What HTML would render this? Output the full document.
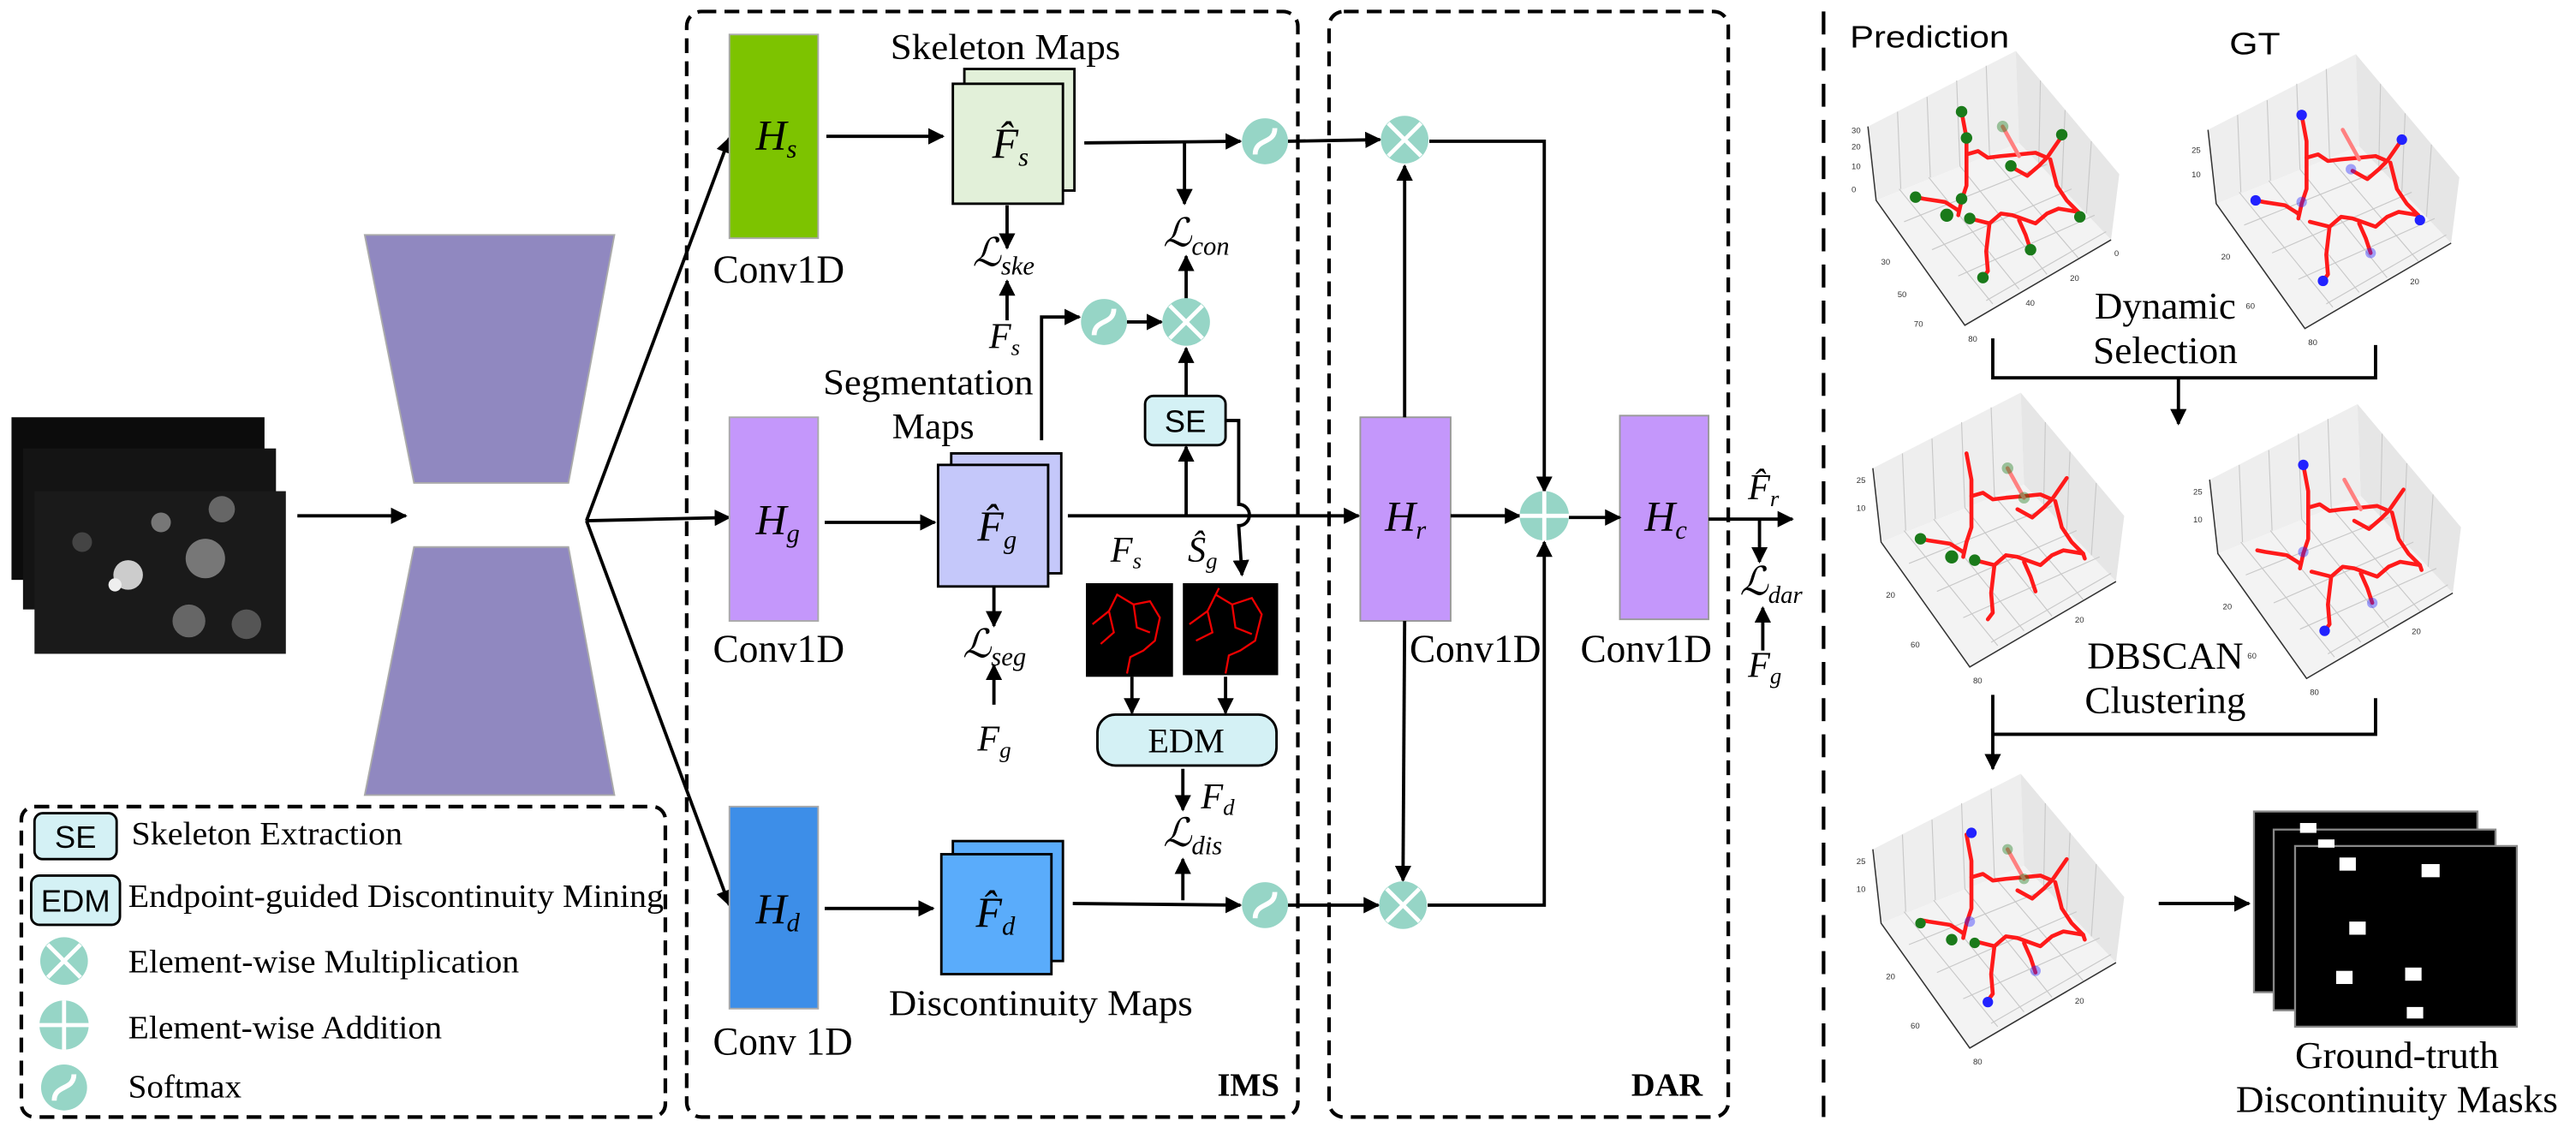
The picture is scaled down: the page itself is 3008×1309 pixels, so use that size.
<!DOCTYPE html>
<html><head><meta charset="utf-8">
<style>
html,body{margin:0;padding:0;background:#fff;}
svg{display:block;}
.t{font-family:"Liberation Serif",serif;fill:#000;}
.m{font-family:"Liberation Serif","DejaVu Serif",serif;font-style:italic;fill:#000;}
.s{font-family:"Liberation Sans",sans-serif;fill:#000;}
.tk{font-family:"Liberation Sans",sans-serif;font-size:5px;fill:#333;}
</style></head><body>
<svg width="3008" height="1309" viewBox="0 0 1568 682.4" preserveAspectRatio="none" xmlns="http://www.w3.org/2000/svg">
<defs>
<marker id="ar" viewBox="0 0 10 10" refX="9" refY="5" markerWidth="5" markerHeight="5" orient="auto" markerUnits="strokeWidth"><path d="M0,0 L10,5 L0,10 z" fill="#000"/></marker>
<g id="sm"><circle r="14" fill="#96d5c6"/><path d="M-6,8 C-6,-2 6,2 6,-8" stroke="#fff" stroke-width="3" fill="none"/></g>
<g id="mul"><circle r="14.5" fill="#96d5c6"/><path d="M-10,-10 L10,10 M10,-10 L-10,10" stroke="#fff" stroke-width="2.5"/></g>
<g id="add"><circle r="15" fill="#96d5c6"/><path d="M-15,0 L15,0 M0,-15 L0,15" stroke="#fff" stroke-width="2.5"/></g>
<g id="pb">
<polygon points="12,46 102,0 104,56 17,91" fill="#eeeeee"/>
<polygon points="102,0 165,75 160,115 104,56" fill="#e6e6e6"/>
<polygon points="17,91 104,56 160,115 71,167" fill="#f3f3f3"/>
<g stroke="#c8c8c8" stroke-width="0.6" fill="none">
<path d="M30,37 L32,84 M48,28 L50,77 M66,18 L68,70 M84,9 L86,63"/>
<path d="M117,18 L116,68 M132,36 L130,84 M148,55 L145,99"/>
<path d="M34,104 L121,69 M51,121 L136,84 M67,137 L150,100 M84,152 L157,110"/>
<path d="M31,84 L88,154 M49,77 L104,145 M68,70 L121,136 M86,63 L140,126"/>
</g>
<path d="M12,46 L17,91 L71,167 L160,115" stroke="#333" stroke-width="0.8" fill="none"/>
</g>
<g id="sk" fill="none" stroke="#ff1a1a" stroke-width="2.4" stroke-linecap="round" stroke-linejoin="round">
<path d="M69,37 L72,53 L72,63 L72,82 L69,91 L67,100"/>
<path d="M72,63 L79,61 L85,65 L93,64 L104,63 L114,62 L121,65 L130,52"/>
<path d="M121,65 L116,70 L109,76 L100,71"/>
<path d="M123,66 L127,82 L133,91 L140,98 L141,101"/>
<path d="M140,98 L128,96 L121,99 L114,105 L100,100 L93,99 L86,105 L74,102"/>
<path d="M86,105 L84,122 L85,134 L82,138"/>
<path d="M104,103 L108,112 L111,121"/>
<path d="M67,97 L59,92 L46,90 L41,89"/>
<path d="M94,46 L104,64" stroke="#ff8080"/>
</g>
</defs>

<!-- input images -->
<rect x="7" y="254" width="154" height="99" fill="#0c0c0c"/>
<rect x="14" y="273" width="154" height="98" fill="#141414"/>
<rect x="21" y="299" width="153" height="99" fill="#1a1a1a"/>
<circle cx="98" cy="318" r="6" fill="#777"/><circle cx="78" cy="350" r="9" fill="#ccc"/><circle cx="125" cy="340" r="12" fill="#777"/>
<circle cx="135" cy="310" r="8" fill="#666"/><circle cx="115" cy="378" r="10" fill="#666"/><circle cx="70" cy="356" r="4" fill="#eee"/>
<circle cx="150" cy="380" r="9" fill="#555"/><circle cx="50" cy="330" r="6" fill="#444"/>
<line x1="181" y1="314" x2="247" y2="314" stroke="#000" stroke-width="2" marker-end="url(#ar)"/>

<!-- encoder/decoder -->
<polygon points="222,143 374,143 346,294 252,294" fill="#9088c0" stroke="#aaa" stroke-width="1"/>
<polygon points="252,333 346,333 374,484 222,484" fill="#9088c0" stroke="#aaa" stroke-width="1"/>

<!-- branches -->
<g stroke="#000" stroke-width="2" fill="none" marker-end="url(#ar)">
<line x1="357" y1="317" x2="444" y2="84"/>
<line x1="357" y1="317" x2="444" y2="315"/>
<line x1="357" y1="317" x2="444" y2="551"/>
</g>

<rect x="418" y="7" width="372" height="673" rx="9" fill="none" stroke="#000" stroke-width="2.2" stroke-dasharray="9,5"/>
<rect x="809" y="7" width="243" height="673" rx="9" fill="none" stroke="#000" stroke-width="2.2" stroke-dasharray="9,5"/>
<line x1="1110" y1="7" x2="1110" y2="680" stroke="#000" stroke-width="2.2" stroke-dasharray="14,8"/>
<rect x="13" y="491" width="392" height="189" rx="8" fill="none" stroke="#000" stroke-width="2.2" stroke-dasharray="9,5"/>

<rect x="444" y="21" width="54" height="124" fill="#7dc300" stroke="#aaa"/>
<rect x="444" y="254" width="54" height="124" fill="#c497fb" stroke="#aaa"/>
<rect x="444" y="491" width="54" height="123" fill="#3d8ee8" stroke="#aaa"/>
<text class="m" x="460" y="91" font-size="26">H<tspan font-size="16" dy="5">s</tspan></text>
<text class="m" x="460" y="325" font-size="26">H<tspan font-size="16" dy="5">g</tspan></text>
<text class="m" x="460" y="562" font-size="26">H<tspan font-size="16" dy="5">d</tspan></text>
<text class="t" x="434" y="172" font-size="24" textLength="80" lengthAdjust="spacingAndGlyphs">Conv1D</text>
<text class="t" x="434" y="403" font-size="24" textLength="80" lengthAdjust="spacingAndGlyphs">Conv1D</text>
<text class="t" x="434" y="642" font-size="24" textLength="85" lengthAdjust="spacingAndGlyphs">Conv 1D</text>

<g stroke="#000" stroke-width="2" fill="none">
<line x1="503" y1="83" x2="574" y2="83" marker-end="url(#ar)"/>
<line x1="502" y1="318" x2="569" y2="318" marker-end="url(#ar)"/>
<line x1="502" y1="553" x2="568" y2="553" marker-end="url(#ar)"/>
</g>

<rect x="587" y="42" width="67" height="74" fill="#e2f0d9" stroke="#000" stroke-width="1.5"/>
<rect x="580" y="51" width="67" height="73" fill="#e2f0d9" stroke="#000" stroke-width="1.5"/>
<text class="m" x="604" y="96" font-size="26">F̂<tspan font-size="16" dy="5">s</tspan></text>
<rect x="579" y="276" width="67" height="73" fill="#c5c8fa" stroke="#000" stroke-width="1.5"/>
<rect x="571" y="283" width="67" height="74" fill="#c5c8fa" stroke="#000" stroke-width="1.5"/>
<text class="m" x="595" y="329" font-size="26">F̂<tspan font-size="16" dy="5">g</tspan></text>
<rect x="580" y="512" width="67" height="73" fill="#5aacfb" stroke="#000" stroke-width="1.5"/>
<rect x="573" y="520" width="67" height="73" fill="#5aacfb" stroke="#000" stroke-width="1.5"/>
<text class="m" x="594" y="564" font-size="26">F̂<tspan font-size="16" dy="5">d</tspan></text>

<text class="t" x="542" y="36" font-size="22" textLength="140" lengthAdjust="spacingAndGlyphs">Skeleton Maps</text>
<text class="t" x="501" y="240" font-size="22" textLength="128" lengthAdjust="spacingAndGlyphs">Segmentation</text>
<text class="t" x="543" y="267" font-size="22" textLength="50" lengthAdjust="spacingAndGlyphs">Maps</text>
<text class="t" x="541" y="618" font-size="22" textLength="185" lengthAdjust="spacingAndGlyphs">Discontinuity Maps</text>
<text class="t" x="741" y="667" font-size="20" font-weight="bold">IMS</text>
<text class="t" x="993" y="667" font-size="20" font-weight="bold">DAR</text>

<g stroke="#000" stroke-width="2" fill="none">
<line x1="660" y1="87" x2="755" y2="86" marker-end="url(#ar)"/>
<line x1="721" y1="87" x2="721" y2="124" marker-end="url(#ar)"/>
<line x1="613" y1="125" x2="613" y2="151" marker-end="url(#ar)"/>
<line x1="613" y1="195" x2="613" y2="171" marker-end="url(#ar)"/>
<polyline points="634,268 634,193 657,193" marker-end="url(#ar)"/>
<line x1="686" y1="196" x2="707" y2="196" marker-end="url(#ar)"/>
<line x1="722" y1="182" x2="722" y2="156" marker-end="url(#ar)"/>
<line x1="722" y1="241" x2="722" y2="212" marker-end="url(#ar)"/>
<line x1="722" y1="314" x2="722" y2="272" marker-end="url(#ar)"/>
<line x1="650" y1="314" x2="827" y2="314" marker-end="url(#ar)"/>
<path d="M746,256 L754,256 L754,307 A5,5 0 0 1 754,320 L756,350" marker-end="url(#ar)"/>
<line x1="605" y1="357" x2="605" y2="381" marker-end="url(#ar)"/>
<line x1="605" y1="429" x2="605" y2="405" marker-end="url(#ar)"/>
<line x1="689" y1="412" x2="689" y2="434" marker-end="url(#ar)"/>
<line x1="746" y1="412" x2="746" y2="434" marker-end="url(#ar)"/>
<line x1="720" y1="468" x2="720" y2="493" marker-end="url(#ar)"/>
<line x1="720" y1="548" x2="720" y2="523" marker-end="url(#ar)"/>
<line x1="653" y1="550" x2="755" y2="551" marker-end="url(#ar)"/>
<line x1="784" y1="86" x2="840" y2="85" marker-end="url(#ar)"/>
<line x1="784" y1="551" x2="839" y2="551" marker-end="url(#ar)"/>
</g>
<use href="#sm" x="770" y="86"/>
<use href="#sm" x="672" y="196"/>
<use href="#mul" x="722" y="196"/>
<use href="#sm" x="770" y="551"/>

<text class="m" x="708" y="150" font-size="24">ℒ<tspan font-size="16" dy="5">con</tspan></text>
<text class="m" x="592" y="162" font-size="24">ℒ<tspan font-size="16" dy="5">ske</tspan></text>
<text class="m" x="602" y="212" font-size="22">F<tspan font-size="14" dy="4">s</tspan></text>
<text class="m" x="586" y="400" font-size="24">ℒ<tspan font-size="16" dy="5">seg</tspan></text>
<text class="m" x="595" y="457" font-size="22">F<tspan font-size="14" dy="4">g</tspan></text>
<text class="m" x="676" y="342" font-size="22">F<tspan font-size="14" dy="4">s</tspan></text>
<text class="m" x="723" y="342" font-size="22">Ŝ<tspan font-size="14" dy="4">g</tspan></text>
<text class="m" x="731" y="492" font-size="22">F<tspan font-size="14" dy="4">d</tspan></text>
<text class="m" x="708" y="515" font-size="24">ℒ<tspan font-size="16" dy="5">dis</tspan></text>

<rect x="697" y="241" width="49" height="30" rx="5" fill="#d4f1f5" stroke="#000" stroke-width="1.5"/>
<text class="s" x="721.5" y="263" font-size="19" text-anchor="middle">SE</text>
<rect x="668" y="435" width="109" height="31" rx="11" fill="#d4f1f5" stroke="#000" stroke-width="1.5"/>
<text class="t" x="722" y="458" font-size="21" text-anchor="middle">EDM</text>

<rect x="661" y="355" width="53" height="57" fill="#000"/>
<rect x="720" y="355" width="58" height="56" fill="#000"/>
<g fill="none" stroke="#e00" stroke-width="1.2">
<path d="M665,380 L675,372 L680,362 L690,368 L700,366 L706,376 L703,390 L696,396 L688,400 L686,410 M675,372 L678,385 L670,392 M690,368 L692,382 L700,385"/>
<path d="M724,380 L735,372 L740,362 L750,368 L762,364 L768,374 L764,390 L755,396 L748,399 L746,410 M735,372 L738,385 L728,390 M750,368 L752,382 L762,386 M740,362 L742,358"/>
</g>

<rect x="828" y="254" width="55" height="124" fill="#c497fb" stroke="#999"/>
<rect x="986" y="253" width="54" height="124" fill="#c497fb" stroke="#999"/>
<text class="m" x="843" y="323" font-size="26">H<tspan font-size="16" dy="5">r</tspan></text>
<text class="m" x="1001" y="323" font-size="26">H<tspan font-size="16" dy="5">c</tspan></text>
<text class="t" x="858" y="403" font-size="24" textLength="80" lengthAdjust="spacingAndGlyphs">Conv1D</text>
<text class="t" x="962" y="403" font-size="24" textLength="80" lengthAdjust="spacingAndGlyphs">Conv1D</text>
<g stroke="#000" stroke-width="2" fill="none">
<line x1="855" y1="254" x2="855" y2="101" marker-end="url(#ar)"/>
<polyline points="870,86 940,86 940,299" marker-end="url(#ar)"/>
<line x1="883" y1="314" x2="925" y2="314" marker-end="url(#ar)"/>
<line x1="955" y1="315" x2="986" y2="315" marker-end="url(#ar)"/>
<line x1="855" y1="378" x2="854" y2="536" marker-end="url(#ar)"/>
<polyline points="869,551 940,551 940,330" marker-end="url(#ar)"/>
<line x1="1040" y1="316" x2="1091" y2="316" marker-end="url(#ar)"/>
<line x1="1071" y1="316" x2="1071" y2="342" marker-end="url(#ar)"/>
<line x1="1073" y1="396" x2="1073" y2="370" marker-end="url(#ar)"/>
</g>
<use href="#mul" x="855" y="85"/>
<use href="#add" x="940" y="314"/>
<use href="#mul" x="854" y="551"/>
<text class="m" x="1064" y="304" font-size="22">F̂<tspan font-size="14" dy="4">r</tspan></text>
<text class="m" x="1059" y="362" font-size="24">ℒ<tspan font-size="15" dy="5">dar</tspan></text>
<text class="m" x="1064" y="412" font-size="22">F<tspan font-size="14" dy="4">g</tspan></text>

<rect x="21" y="495" width="50" height="28" rx="5" fill="#d4f1f5" stroke="#000" stroke-width="1.5"/>
<text class="s" x="46" y="516" font-size="19" text-anchor="middle">SE</text>
<rect x="19" y="533" width="54" height="30" rx="5" fill="#d4f1f5" stroke="#000" stroke-width="1.5"/>
<text class="s" x="46" y="555" font-size="19" text-anchor="middle">EDM</text>
<use href="#mul" x="39" y="585"/>
<use href="#add" x="39" y="624"/>
<use href="#sm" x="39" y="662"/>
<text class="t" x="80" y="514" font-size="20" textLength="165" lengthAdjust="spacingAndGlyphs">Skeleton Extraction</text>
<text class="t" x="78" y="552" font-size="20" textLength="326" lengthAdjust="spacingAndGlyphs">Endpoint-guided Discontinuity Mining</text>
<text class="t" x="78" y="592" font-size="20" textLength="238" lengthAdjust="spacingAndGlyphs">Element-wise Multiplication</text>
<text class="t" x="78" y="632" font-size="20" textLength="191" lengthAdjust="spacingAndGlyphs">Element-wise Addition</text>
<text class="t" x="78" y="668" font-size="20" textLength="69" lengthAdjust="spacingAndGlyphs">Softmax</text>

<text class="s" x="1126" y="29" font-size="19" textLength="97" lengthAdjust="spacingAndGlyphs">Prediction</text>
<text class="s" x="1357" y="33" font-size="19" textLength="31" lengthAdjust="spacingAndGlyphs">GT</text>

<g transform="translate(1125,31)"><use href="#pb"/><use href="#sk"/>
<g fill="#1a7a1a"><circle cx="69" cy="37" r="3.5"/><circle cx="72" cy="53" r="3.5"/><circle cx="41" cy="89" r="3.5"/><circle cx="60" cy="100" r="4"/><circle cx="74" cy="102" r="3.5"/><circle cx="69" cy="90" r="3.5"/><circle cx="99" cy="70" r="3.5"/><circle cx="130" cy="51" r="3.5"/><circle cx="141" cy="101" r="3.5"/><circle cx="111" cy="121" r="3.5"/><circle cx="82" cy="138" r="3.5"/><circle cx="94" cy="46" r="3.5" opacity="0.4"/></g>
<text class="tk" x="2" y="50">30</text><text class="tk" x="2" y="60">20</text><text class="tk" x="2" y="72">10</text><text class="tk" x="2" y="86">0</text><text class="tk" x="20" y="130">30</text><text class="tk" x="30" y="150">50</text><text class="tk" x="40" y="168">70</text><text class="tk" x="73" y="177">80</text><text class="tk" x="108" y="155">40</text><text class="tk" x="135" y="140">20</text><text class="tk" x="162" y="125">0</text></g>

<g transform="translate(1332,33)"><use href="#pb"/><use href="#sk"/>
<g fill="#2222ff"><circle cx="69" cy="37" r="3.2"/><circle cx="130" cy="52" r="3.2"/><circle cx="41" cy="89" r="3.2"/><circle cx="141" cy="101" r="3.2"/><circle cx="82" cy="138" r="3.2"/><circle cx="99" cy="70" r="3.2" opacity="0.4"/><circle cx="69" cy="90" r="3.2" opacity="0.4"/><circle cx="111" cy="121" r="3.2" opacity="0.4"/></g>
<text class="tk" x="2" y="60">25</text><text class="tk" x="2" y="75">10</text><text class="tk" x="20" y="125">20</text><text class="tk" x="35" y="155">60</text><text class="tk" x="73" y="177">80</text><text class="tk" x="135" y="140">20</text></g>

<g transform="translate(1128,239)"><use href="#pb"/><use href="#sk"/>
<g fill="#1a7a1a"><circle cx="41" cy="89" r="3.5"/><circle cx="60" cy="100" r="4"/><circle cx="74" cy="102" r="3.5"/><circle cx="94" cy="46" r="3.5" opacity="0.4"/><circle cx="104" cy="64" r="3.5" opacity="0.4"/></g>
<text class="tk" x="2" y="55">25</text><text class="tk" x="2" y="72">10</text><text class="tk" x="20" y="125">20</text><text class="tk" x="35" y="155">60</text><text class="tk" x="73" y="177">80</text><text class="tk" x="135" y="140">20</text></g>

<g transform="translate(1333,246)"><use href="#pb"/><use href="#sk"/>
<g fill="#2222ff"><circle cx="69" cy="37" r="3.2"/><circle cx="69" cy="90" r="3.2" opacity="0.4"/><circle cx="111" cy="121" r="3.2" opacity="0.4"/><circle cx="82" cy="138" r="3.2"/></g>
<text class="tk" x="2" y="55">25</text><text class="tk" x="2" y="72">10</text><text class="tk" x="20" y="125">20</text><text class="tk" x="35" y="155">60</text><text class="tk" x="73" y="177">80</text><text class="tk" x="135" y="140">20</text></g>

<g transform="translate(1128,471)"><use href="#pb"/><use href="#sk"/>
<g fill="#1a7a1a"><circle cx="41" cy="91" r="3.2"/><circle cx="60" cy="101" r="3.5"/><circle cx="74" cy="103" r="3.2"/><circle cx="94" cy="46" r="3.2" opacity="0.4"/><circle cx="104" cy="64" r="3.2" opacity="0.4"/></g>
<g fill="#2222ff"><circle cx="72" cy="36" r="3.2"/><circle cx="82" cy="139" r="3.2"/><circle cx="71" cy="90" r="3.2" opacity="0.4"/><circle cx="111" cy="120" r="3.2" opacity="0.4"/></g>
<text class="tk" x="2" y="55">25</text><text class="tk" x="2" y="72">10</text><text class="tk" x="20" y="125">20</text><text class="tk" x="35" y="155">60</text><text class="tk" x="73" y="177">80</text><text class="tk" x="135" y="140">20</text></g>

<text class="t" x="1318" y="194" font-size="23" text-anchor="middle" textLength="86" lengthAdjust="spacingAndGlyphs">Dynamic</text>
<text class="t" x="1318" y="221" font-size="23" text-anchor="middle" textLength="88" lengthAdjust="spacingAndGlyphs">Selection</text>
<text class="t" x="1318" y="407" font-size="23" text-anchor="middle" textLength="95" lengthAdjust="spacingAndGlyphs">DBSCAN</text>
<text class="t" x="1318" y="434" font-size="23" text-anchor="middle" textLength="98" lengthAdjust="spacingAndGlyphs">Clustering</text>
<g stroke="#000" stroke-width="2" fill="none">
<polyline points="1213,206 1213,230 1446,230 1446,210"/>
<line x1="1326" y1="230" x2="1326" y2="258" marker-end="url(#ar)"/>
<polyline points="1446,425 1446,447 1213,447"/>
<line x1="1213" y1="423" x2="1213" y2="468" marker-end="url(#ar)"/>
<line x1="1314" y1="550" x2="1369" y2="550" marker-end="url(#ar)"/>
</g>

<rect x="1372" y="494" width="136" height="110" fill="#000" stroke="#888" stroke-width="1.2"/>
<rect x="1384" y="505" width="135" height="110" fill="#000" stroke="#888" stroke-width="1.2"/>
<rect x="1397" y="515" width="135" height="110" fill="#000" stroke="#888" stroke-width="1.2"/>
<g fill="#fff"><rect x="1400" y="501" width="10" height="6"/><rect x="1411" y="511" width="10" height="5"/><rect x="1424" y="522" width="10" height="8"/><rect x="1474" y="526" width="11" height="8"/><rect x="1430" y="561" width="10" height="8"/><rect x="1422" y="591" width="10" height="8"/><rect x="1464" y="589" width="10" height="8"/><rect x="1465" y="613" width="10" height="7"/></g>
<text class="t" x="1459" y="650" font-size="23" text-anchor="middle" textLength="124" lengthAdjust="spacingAndGlyphs">Ground-truth</text>
<text class="t" x="1459" y="677" font-size="23" text-anchor="middle" textLength="196" lengthAdjust="spacingAndGlyphs">Discontinuity Masks</text>
</svg>
</body></html>
